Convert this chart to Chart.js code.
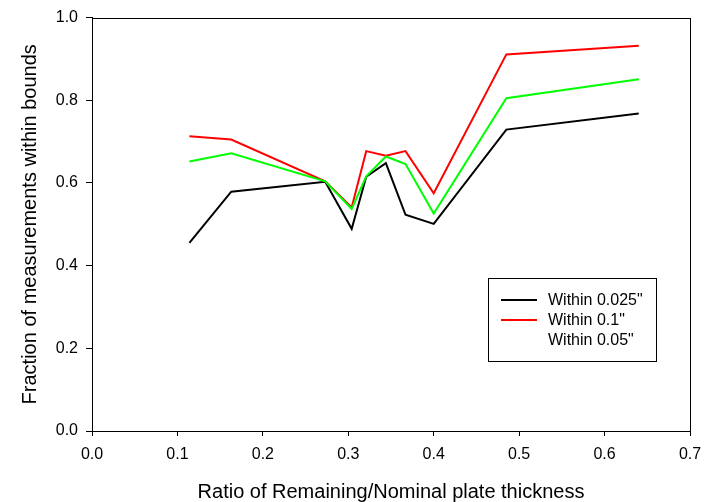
<!DOCTYPE html>
<html>
<head>
<meta charset="utf-8">
<script src="https://cdn.jsdelivr.net/npm/chart.js@4.4.1/dist/chart.umd.min.js"></script>
<style>
  html, body { margin: 0; padding: 0; background: #fff; }
  #wrap { width: 716px; height: 502px; }
</style>
</head>
<body>
<div id="wrap"><canvas id="c" width="716" height="502"></canvas></div>
<script>
// Remaining/nominal plate thickness ratio for each measured group
const ratio = [0.114, 0.163, 0.273, 0.304, 0.321, 0.344, 0.367, 0.400, 0.485, 0.640];

// Fraction of measurements within each tolerance band
const within0025 = [0.455, 0.579, 0.603, 0.489, 0.615, 0.648, 0.523, 0.501, 0.729, 0.768];
const within01   = [0.713, 0.705, 0.604, 0.541, 0.677, 0.666, 0.677, 0.575, 0.911, 0.932];
const within005  = [0.652, 0.672, 0.604, 0.537, 0.616, 0.664, 0.646, 0.526, 0.805, 0.851];

const seriesNames = ['Within 0.025"', 'Within 0.1"', 'Within 0.05"'];
const xTicks = [0, 0.1, 0.2, 0.3, 0.4, 0.5, 0.6, 0.7];
const yTicks = [0, 0.2, 0.4, 0.6, 0.8, 1.0];

const FONT = 'Liberation Sans, Arial, sans-serif';

const pts = ys => ratio.map((x, i) => ({ x: x, y: ys[i] }));

// Box around the plot area (top and right sides closing the axes)
const frame = {
  id: 'frame',
  afterDraw(chart) {
    const a = chart.chartArea, ctx = chart.ctx;
    ctx.save();
    ctx.strokeStyle = '#000';
    ctx.lineWidth = 1;
    ctx.strokeRect(Math.round(a.left) + 0.5, Math.round(a.top) + 0.5,
                   Math.round(a.right - a.left), Math.round(a.bottom - a.top));
    ctx.restore();
  }
};

// Boxed legend inside the plot; the third entry is text only
const boxLegend = {
  id: 'boxLegend',
  afterDraw(chart) {
    const ctx = chart.ctx;
    const x0 = 488.5, y0 = 278.5, w = 168, h = 83;
    ctx.save();
    ctx.fillStyle = '#fff';
    ctx.fillRect(x0, y0, w, h);
    ctx.strokeStyle = '#000';
    ctx.lineWidth = 1;
    ctx.strokeRect(x0, y0, w, h);
    ctx.font = '16px ' + FONT;
    ctx.textBaseline = 'middle';
    const rows = [300, 320, 340];
    chart.data.datasets.forEach((ds, i) => {
      const y = rows[i];
      if (ds.legendSample) {
        ctx.strokeStyle = ds.borderColor;
        ctx.lineWidth = 2;
        ctx.beginPath();
        ctx.moveTo(501, y);
        ctx.lineTo(537, y);
        ctx.stroke();
      }
      ctx.fillStyle = '#000';
      ctx.fillText(ds.label, 548, y + 1);
    });
    ctx.restore();
  }
};

new Chart(document.getElementById('c'), {
  type: 'line',
  data: {
    datasets: [
      { label: seriesNames[0], data: pts(within0025), borderColor: '#000000', order: 3, legendSample: true },
      { label: seriesNames[1], data: pts(within01),   borderColor: '#ff0000', order: 2, legendSample: true },
      { label: seriesNames[2], data: pts(within005),  borderColor: '#00ff00', order: 1, legendSample: false }
    ].map(d => Object.assign(d, { borderWidth: 2, pointRadius: 0, fill: false, tension: 0 }))
  },
  options: {
    responsive: false,
    animation: false,
    layout: { padding: { top: 12, right: 26, left: 0, bottom: 0 } },
    plugins: { legend: { display: false }, tooltip: { enabled: false } },
    scales: {
      x: {
        type: 'linear',
        min: 0, max: 0.7,
        afterBuildTicks: s => { s.ticks = xTicks.map(v => ({ value: v })); },
        afterFit: s => { s.height = 71; },
        ticks: { color: '#000', font: { family: FONT, size: 16 }, padding: 9,
                 callback: v => v.toFixed(1), maxRotation: 0 },
        grid: { drawOnChartArea: false, color: '#000', tickLength: 5, tickWidth: 1 },
        border: { color: '#000', width: 1 },
        title: { display: true, text: 'Ratio of Remaining/Nominal plate thickness',
                 color: '#000', font: { family: FONT, size: 20, lineHeight: 1.0 },
                 padding: { top: 4, bottom: 0 } }
      },
      y: {
        min: 0, max: 1,
        afterBuildTicks: s => { s.ticks = yTicks.map(v => ({ value: v })); },
        afterFit: s => { s.width = 92; },
        ticks: { color: '#000', font: { family: FONT, size: 16 }, padding: 8,
                 callback: v => v.toFixed(1) },
        grid: { drawOnChartArea: false, color: '#000', tickLength: 6, tickWidth: 1 },
        border: { color: '#000', width: 1 },
        title: { display: true, text: 'Fraction of measurements within bounds',
                 color: '#000', font: { family: FONT, size: 20, lineHeight: 1.2 },
                 padding: { top: 18, bottom: 0 } }
      }
    }
  },
  plugins: [frame, boxLegend]
});
</script>
</body>
</html>
